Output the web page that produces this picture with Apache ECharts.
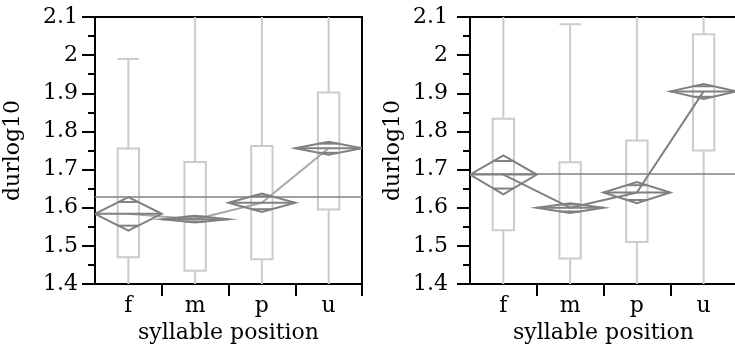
<!DOCTYPE html>
<html>
<head>
<meta charset="utf-8">
<script src="https://cdn.jsdelivr.net/npm/echarts@6/dist/echarts.min.js"></script>
<style>
html, body { margin: 0; padding: 0; background: #fff; }
#main { width: 735px; height: 344px; }
</style>
</head>
<body>
<div id="main"></div>
<script>
var categories = ['f', 'm', 'p', 'u'];

// left panel: box plots + means diamonds
var leftWhiskerLow = [1.35, 1.35, 1.35, 1.35];
var leftQ1 = [1.470, 1.435, 1.465, 1.595];
var leftQ3 = [1.755, 1.720, 1.762, 1.902];
var leftWhiskerHigh = [1.990, 2.200, 2.200, 2.200];
var leftMean = [1.584, 1.570, 1.613, 1.756];
var leftCiLow = [1.540, 1.561, 1.589, 1.739];
var leftCiHigh = [1.628, 1.579, 1.637, 1.773];
var leftGrandMean = 1.630;

// right panel
var rightWhiskerLow = [1.35, 1.35, 1.35, 1.35];
var rightQ1 = [1.541, 1.467, 1.510, 1.750];
var rightQ3 = [1.833, 1.719, 1.776, 2.055];
var rightWhiskerHigh = [2.200, 2.081, 2.200, 2.200];
var rightMean = [1.687, 1.600, 1.640, 1.905];
var rightCiLow = [1.635, 1.586, 1.612, 1.885];
var rightCiHigh = [1.737, 1.612, 1.667, 1.924];
var rightGrandMean = 1.687;

var yMin = 1.4, yMax = 2.1, yStep = 0.1;

var BOX_COLOR = '#cbcbcb';
var MEAN_COLOR = '#808080';
var FONT = 'DejaVu Serif';
var FONT_SIZE = 22;

function boxData(low, q1, q3, high) {
    return categories.map(function (c, i) { return [i, low[i], q1[i], q3[i], high[i]]; });
}
function diamondData(lo, mean, hi) {
    return categories.map(function (c, i) { return [i, lo[i], mean[i], hi[i]]; });
}

function ln(x1, y1, x2, y2, color) {
    return { type: 'line', shape: { x1: x1, y1: y1, x2: x2, y2: y2 },
        style: { stroke: color, lineWidth: 2, fill: null } };
}

function renderBox(params, api) {
    var i = api.value(0);
    var band = api.size([1, 0])[0];
    var half = band * 0.16;
    var lo = api.coord([i, api.value(1)]);
    var q1 = api.coord([i, api.value(2)]);
    var q3 = api.coord([i, api.value(3)]);
    var hi = api.coord([i, api.value(4)]);
    var x = lo[0];
    return {
        type: 'group',
        children: [
            ln(x, lo[1], x, q1[1], BOX_COLOR),
            ln(x, q3[1], x, hi[1], BOX_COLOR),
            { type: 'rect', shape: { x: x - half, y: q3[1], width: half * 2, height: q1[1] - q3[1] },
              style: { stroke: BOX_COLOR, lineWidth: 2, fill: null } },
            ln(x - half, hi[1], x + half, hi[1], BOX_COLOR),
            ln(x - half, lo[1], x + half, lo[1], BOX_COLOR)
        ]
    };
}

function renderDiamond(params, api) {
    var i = api.value(0);
    var band = api.size([1, 0])[0];
    var lo = api.coord([i, api.value(1)]);
    var c = api.coord([i, api.value(2)]);
    var hi = api.coord([i, api.value(3)]);
    var l = c[0] - band / 2, r = c[0] + band / 2;
    var k = Math.SQRT1_2;
    var ovTop = c[1] + (hi[1] - c[1]) * k;
    var ovBot = c[1] + (lo[1] - c[1]) * k;
    var ovHalf = band / 2 * (1 - k);
    return {
        type: 'group',
        children: [
            { type: 'polygon', shape: { points: [[l, c[1]], [c[0], hi[1]], [r, c[1]], [c[0], lo[1]]] },
              style: { stroke: MEAN_COLOR, lineWidth: 2, fill: null } },
            ln(l, c[1], r, c[1], MEAN_COLOR),
            ln(c[0] - ovHalf, ovTop, c[0] + ovHalf, ovTop, MEAN_COLOR),
            ln(c[0] - ovHalf, ovBot, c[0] + ovHalf, ovBot, MEAN_COLOR)
        ]
    };
}

function makeX(gridIndex) {
    return {
        type: 'category',
        gridIndex: gridIndex,
        data: categories,
        name: 'syllable position',
        nameLocation: 'middle',
        nameGap: 37,
        nameTextStyle: { fontFamily: FONT, fontSize: FONT_SIZE, color: '#000' },
        axisLine: { lineStyle: { color: '#000', width: 2 } },
        axisTick: { show: true, length: 12, lineStyle: { color: '#000', width: 2 },
            interval: function (idx) { return idx > 0; } },
        axisLabel: { margin: 11, fontFamily: FONT, fontSize: FONT_SIZE, color: '#000' },
        splitLine: { show: false }
    };
}

function makeY(gridIndex, labelMargin, nameGap) {
    return {
        type: 'value',
        gridIndex: gridIndex,
        min: yMin,
        max: yMax,
        interval: yStep,
        name: 'durlog10',
        nameLocation: 'middle',
        nameGap: nameGap,
        nameTextStyle: { fontFamily: FONT, fontSize: FONT_SIZE, color: '#000' },
        axisLine: { show: true, lineStyle: { color: '#000', width: 2 } },
        axisTick: { show: true, length: 13, lineStyle: { color: '#000', width: 2 } },
        minorTick: { show: true, splitNumber: 2, length: 7, lineStyle: { color: '#000', width: 2 } },
        axisLabel: { margin: labelMargin, fontFamily: FONT, fontSize: FONT_SIZE, color: '#000' },
        splitLine: { show: false },
        minorSplitLine: { show: false }
    };
}

function panelSeries(idx, low, q1, q3, high, ciLo, mean, ciHi, grand, lineColor) {
    return [
        {
            type: 'custom', xAxisIndex: idx, yAxisIndex: idx, clip: true, z: 2,
            renderItem: renderBox,
            encode: { x: 0, y: [1, 2, 3, 4] },
            data: boxData(low, q1, q3, high)
        },
        {
            type: 'line', xAxisIndex: idx, yAxisIndex: idx, z: 3,
            symbol: 'none',
            lineStyle: { color: lineColor, width: 2 },
            data: mean
        },
        {
            type: 'custom', xAxisIndex: idx, yAxisIndex: idx, clip: true, z: 4,
            renderItem: renderDiamond,
            encode: { x: 0, y: [1, 2, 3] },
            data: diamondData(ciLo, mean, ciHi),
            markLine: {
                silent: true,
                symbol: 'none',
                label: { show: false },
                lineStyle: { color: MEAN_COLOR, width: 1.5, type: 'solid' },
                data: [{ yAxis: grand }]
            }
        }
    ];
}

var chart = echarts.init(document.getElementById('main'));
chart.setOption({
    animation: false,
    backgroundColor: '#fff',
    grid: [
        { left: 95, top: 17, width: 267, height: 267, show: true, borderColor: '#000', borderWidth: 2,
          outerBoundsMode: 'none' },
        { left: 470, top: 17, width: 267, height: 267, show: true, borderColor: '#000', borderWidth: 2,
          outerBoundsMode: 'none' }
    ],
    xAxis: [makeX(0), makeX(1)],
    yAxis: [makeY(0, 17, 71), makeY(1, 22, 66)],
    series: panelSeries(0, leftWhiskerLow, leftQ1, leftQ3, leftWhiskerHigh,
            leftCiLow, leftMean, leftCiHigh, leftGrandMean, '#a8a8a8')
        .concat(panelSeries(1, rightWhiskerLow, rightQ1, rightQ3, rightWhiskerHigh,
            rightCiLow, rightMean, rightCiHigh, rightGrandMean, MEAN_COLOR))
});
</script>
</body>
</html>
